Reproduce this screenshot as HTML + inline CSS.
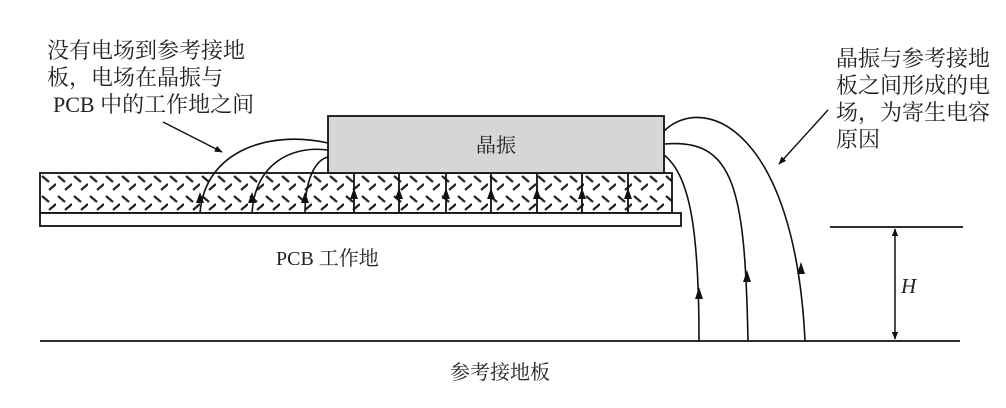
<!DOCTYPE html>
<html><head><meta charset="utf-8"><style>
html,body{margin:0;padding:0;background:#fff;}
svg{display:block;}
text{font-family:"Liberation Serif","Noto Serif CJK SC","Noto Sans CJK SC",serif;fill:#222;}
</style></head><body>
<svg width="1006" height="408" viewBox="0 0 1006 408" xmlns="http://www.w3.org/2000/svg">
<defs>
<pattern id="h" x="40" y="173" width="16" height="20" patternUnits="userSpaceOnUse">
<line x1="2" y1="3" x2="9" y2="9" stroke="#222" stroke-width="2.2"/>
<line x1="9" y1="17" x2="16" y2="11" stroke="#222" stroke-width="2.2"/>
</pattern>
<marker id="a" viewBox="0 0 10 10" refX="9" refY="5" markerWidth="8" markerHeight="8" orient="auto-start-reverse" markerUnits="userSpaceOnUse">
<path d="M0,1 L10,5 L0,9 Z" fill="#111"/>
</marker>
</defs>
<g stroke="#111" fill="none" stroke-width="1.8">
<rect x="40" y="173" width="632" height="40" fill="url(#h)"/>
<rect x="40" y="213" width="641" height="13" fill="#fff"/>
<rect x="328" y="116" width="336" height="57" fill="#d6d6d6"/>
<path d="M354 173V213M399 173V213M446 173V213M491 173V213M537 173V213M582 173V213M628 173V213"/>
<line x1="40" y1="341" x2="960" y2="341"/>
<line x1="830" y1="227" x2="963" y2="227"/>
<line x1="895" y1="229" x2="895" y2="339" marker-start="url(#a)" marker-end="url(#a)" stroke-width="1.5"/>
<path d="M328 143 C 270 130, 205 150, 200 213" stroke-width="1.6"/>
<path d="M328 150 C 290 145, 255 165, 252 213" stroke-width="1.6"/>
<path d="M328 157 C 315 160, 305 180, 305 213" stroke-width="1.6"/>
<path d="M664 131 C 705 92, 795 130, 805 341" stroke-width="1.6"/>
<path d="M665 144 C 735 138, 745 190, 748 341" stroke-width="1.6"/>
<path d="M664 155 C 690 175, 699 230, 699 341" stroke-width="1.6"/>
<line x1="163" y1="122" x2="222" y2="152" marker-end="url(#a)" stroke-width="1.4"/>
<line x1="828" y1="110" x2="779" y2="164" marker-end="url(#a)" stroke-width="1.4"/>
</g>
<g fill="#111">
<path d="M200 192 l-4 11 h8z M252 192 l-4 11 h8z M305 192 l-4 11 h8z"/>
<path d="M354 188 l-4 11 h8z M399 188 l-4 11 h8z M446 188 l-4 11 h8z M491 188 l-4 11 h8z M537 188 l-4 11 h8z M582 188 l-4 11 h8z M628 188 l-4 11 h8z"/>
<path d="M699 287 l-4 12 h8z M747 270 l-4 12 h8z M801 262 l-4 12 h8z"/>
</g>
<g font-size="22">
<text x="47" y="58">没有电场到参考接地</text>
<text x="47" y="85">板，电场在晶振与</text>
<text x="53" y="112">PCB 中的工作地之间</text>
<text x="836" y="66">晶振与参考接地</text>
<text x="836" y="93">板之间形成的电</text>
<text x="836" y="120">场，为寄生电容</text>
<text x="836" y="147">原因</text>
</g>
<text x="476" y="152" font-size="20">晶振</text>
<text x="276" y="265" font-size="20">PCB 工作地</text>
<text x="450" y="379" font-size="20">参考接地板</text>
<text x="901" y="293" font-size="21" font-style="italic">H</text>
</svg>
</body></html>
